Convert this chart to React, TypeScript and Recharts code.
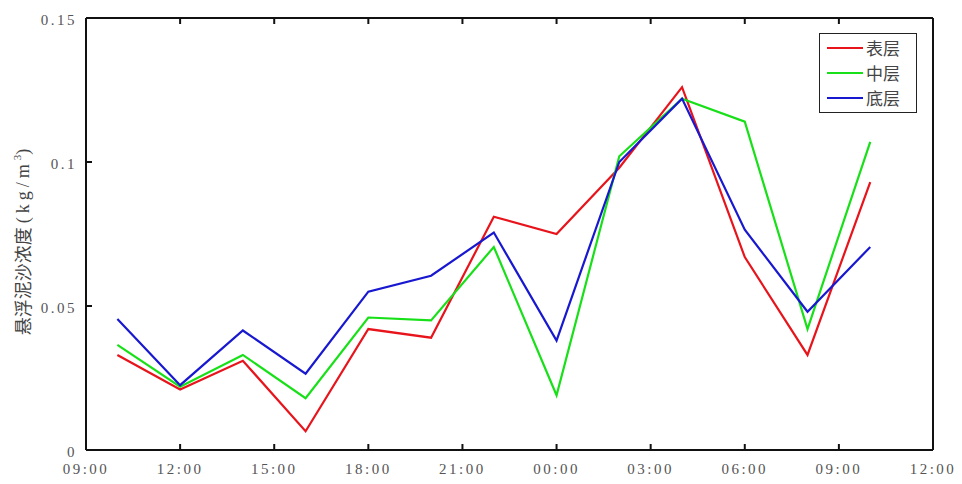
import { Legend, Line, LineChart, XAxis, YAxis } from "recharts";

// hours counted from 09:00 of day one
const hours = [1, 3, 5, 7, 9, 11, 13, 15, 17, 19, 21, 23, 25];
const surface = [0.033, 0.021, 0.031, 0.0065, 0.042, 0.039, 0.081, 0.075, 0.098, 0.126, 0.067, 0.033, 0.093];
const middle = [0.0365, 0.022, 0.033, 0.018, 0.046, 0.045, 0.0705, 0.019, 0.102, 0.122, 0.114, 0.042, 0.107];
const bottom = [0.0455, 0.0225, 0.0415, 0.0265, 0.055, 0.0605, 0.0755, 0.038, 0.1, 0.122, 0.0765, 0.048, 0.0705];

const xTicks = [0, 3, 6, 9, 12, 15, 18, 21, 24, 27];
const yTicks = [0, 0.05, 0.1, 0.15];

const seriesInfo = [
  { key: "surface", name: "表层", color: "#e8141c" },
  { key: "middle", name: "中层", color: "#18e018" },
  { key: "bottom", name: "底层", color: "#1818d0" },
];

const data = hours.map((h, i) => ({
  h,
  surface: surface[i],
  middle: middle[i],
  bottom: bottom[i],
}));

const serif = "'Liberation Serif', 'DejaVu Serif', serif";
const cjk = "'Noto Sans CJK SC', 'Liberation Serif', serif";
const axisColor = "#111";
const labelColor = "#555";
const TICK = 6;
const MARGIN = 12;

const formatHour = (v: number) => `${String((9 + v) % 24).padStart(2, "0")}:00`;

// ticks point into the plot, matlab style
const BottomTick = (props: any) => {
  const { x, y, payload } = props;
  const ay = y - MARGIN;
  return (
    <g>
      <line x1={x} x2={x} y1={ay} y2={ay - TICK} stroke={axisColor} strokeWidth={2} />
      <text x={x} y={y} dy="0.8em" textAnchor="middle" fill={labelColor} fontSize={15} fontFamily={serif} letterSpacing={2.5}>
        {formatHour(payload.value)}
      </text>
    </g>
  );
};

const LeftTick = (props: any) => {
  const { x, y, payload } = props;
  const ax = x + MARGIN;
  return (
    <g>
      <line x1={ax} x2={ax + TICK} y1={y} y2={y} stroke={axisColor} strokeWidth={2} />
      <text x={x + 3} y={y + 2} dy="0.355em" textAnchor="end" fill={labelColor} fontSize={15} fontFamily={serif} letterSpacing={2.5}>
        {String(payload.value)}
      </text>
    </g>
  );
};

const TopTick = (props: any) => {
  const { x, y } = props;
  return <line x1={x} x2={x} y1={y} y2={y + TICK} stroke={axisColor} strokeWidth={2} />;
};

const RightTick = (props: any) => {
  const { x, y } = props;
  return <line x1={x} x2={x - TICK} y1={y} y2={y} stroke={axisColor} strokeWidth={2} />;
};

function LegendBox() {
  return (
    <div
      style={{
        border: "1.5px solid #222",
        background: "#fff",
        width: 96,
        padding: "1px 0 2px 0",
        fontFamily: cjk,
        fontSize: 17,
        color: "#444",
      }}
    >
      {seriesInfo.map((s) => (
        <div key={s.key} style={{ display: "flex", alignItems: "center", height: 25 }}>
          <div style={{ width: 36, height: 2, background: s.color, marginLeft: 7, marginRight: 3 }} />
          <span style={{ lineHeight: "25px" }}>{s.name}</span>
        </div>
      ))}
    </div>
  );
}

const YLabel = () => (
  <text
    x={25}
    y={242}
    transform="rotate(-90 25 242)"
    textAnchor="middle"
    dominantBaseline="middle"
    fontSize={18}
    fill="#444"
  >
    <tspan fontFamily={cjk}>悬浮泥沙浓度 </tspan>
    <tspan fontFamily={serif} letterSpacing={4}>(kg/m</tspan>
    <tspan fontFamily={serif} fontSize={11} dy={-7}>3</tspan>
    <tspan fontFamily={serif} dy={7}>)</tspan>
  </text>
);

export default function App() {
  return (
    <div style={{ position: "absolute", left: 0, top: 0, background: "#fff" }}>
      <LineChart width={962} height={484} data={data} margin={{ top: 17, right: 28, bottom: 0, left: 0 }}>
        <XAxis
          dataKey="h"
          type="number"
          domain={[0, 27]}
          ticks={xTicks}
          tickSize={0}
          tickMargin={MARGIN}
          height={34}
          axisLine={{ stroke: axisColor, strokeWidth: 2 }}
          tickLine={false}
          tick={BottomTick}
          interval={0}
        />
        <XAxis
          xAxisId="top"
          orientation="top"
          dataKey="h"
          type="number"
          domain={[0, 27]}
          ticks={xTicks}
          tickSize={0}
          tickMargin={0}
          height={1}
          axisLine={{ stroke: axisColor, strokeWidth: 2 }}
          tickLine={false}
          tick={TopTick}
          interval={0}
        />
        <YAxis
          type="number"
          domain={[0, 0.15]}
          ticks={yTicks}
          tickSize={0}
          tickMargin={MARGIN}
          width={86}
          axisLine={{ stroke: axisColor, strokeWidth: 2 }}
          tickLine={false}
          tick={LeftTick}
          interval={0}
          label={YLabel}
        />
        <YAxis
          yAxisId="right"
          orientation="right"
          type="number"
          domain={[0, 0.15]}
          ticks={yTicks}
          tickSize={0}
          tickMargin={0}
          width={1}
          axisLine={{ stroke: axisColor, strokeWidth: 2 }}
          tickLine={false}
          tick={RightTick}
          interval={0}
        />
        <Legend
          layout="horizontal"
          verticalAlign="middle"
          align="center"
          content={() => <LegendBox />}
          wrapperStyle={{ position: "absolute", left: 819, top: 33, width: 100 }}
        />
        {seriesInfo.map((s) => (
          <Line
            key={s.key}
            dataKey={s.key}
            name={s.name}
            stroke={s.color}
            strokeWidth={2.2}
            dot={false}
            type="linear"
            isAnimationActive={false}
          />
        ))}
      </LineChart>
    </div>
  );
}
